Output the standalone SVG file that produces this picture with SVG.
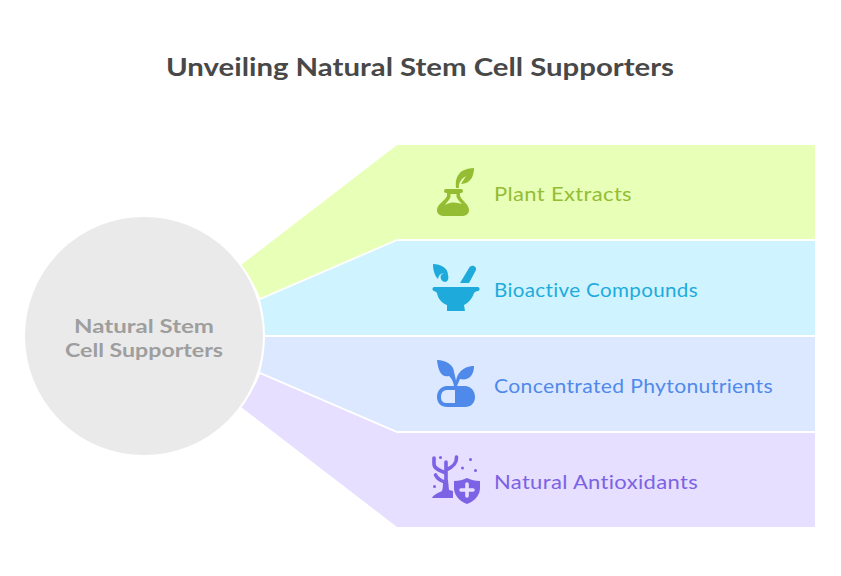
<svg xmlns="http://www.w3.org/2000/svg" width="841" height="576" viewBox="0 0 841 576">
<style>
text{font-family:"Lato","DejaVu Sans",sans-serif}
.t{font-size:19px;letter-spacing:.3px}
.c{font-size:19px;font-weight:700;fill:#9e9e9e;text-anchor:middle}
</style>
<rect width="841" height="576" fill="#fff"/>
<text x="420" y="76" font-size="25" font-weight="700" fill="#484848" text-anchor="middle" textLength="508" lengthAdjust="spacingAndGlyphs">Unveiling Natural Stem Cell Supporters</text>
<g id="band1"><path d="M241 265L397 145H815V239H397L260 298A119 119 0 0 0 241 265Z" fill="#e8ffb7"/>
<g fill="#95bd34"><rect x="444" y="189" width="19" height="4" rx="2"/><path d="M447 192H460V196C462 201 469 204 469 210C469 214 466 216 461 216H445C440 216 437 214 437 210C437 204 445 201 447 196Z"/><path d="M456 188C455 180 457 175 462 171C466 169 470 168 474 168C474 175 471 184 461 184L466 176C462 178 458 183 459 188Z"/></g>
<path d="M450.500 194H456.500V197C458 200 460 202 462 204C457 203 453 201 445 205C447 202 450 199 450.500 197Z" fill="#e8ffb7"/>
<text class="t" x="494" y="201" fill="#95bd34" textLength="138" lengthAdjust="spacingAndGlyphs">Plant Extracts</text></g>
<g id="band2"><path d="M260 300L397 241H815V335H264A119 119 0 0 0 260 300Z" fill="#cff3ff"/>
<g fill="#1eabdc"><path d="M434 287H478C480 287 480 291 478 291C476 291 475 292 474 293C472 299 468 303 464 305L465 311H447L447 305C442 303 438 299 437 293C436 292 435 291 434 291C432 291 432 287 434 287Z"/><path d="M460 283L469 268C471 264 477 266 476 270L469 283Z"/><path d="M433 264C441 264 448 268 448 275C449 278 448 282 445 282C441 281 440 278 441 275L444 273L441 274C439 275 438 278 438 279C435 276 433 271 433 264Z"/></g>
<text class="t" x="494" y="297" fill="#1eabdc" textLength="204" lengthAdjust="spacingAndGlyphs">Bioactive Compounds</text></g>
<g id="band3"><path d="M264 337H815V431H397L260 372A119 119 0 0 0 264 337Z" fill="#dce8ff"/>
<g fill="#4f8aeb"><path d="M447 386H465C471 386 475 391 475 397C475 403 471 407 465 407H447C441 407 437 403 437 397C437 391 441 386 447 386ZM447 390C443 390 441 393 441 397C441 401 443 403 447 403H455V390Z" fill-rule="evenodd"/><path d="M437 360C446 360 454 365 454 372C455 376 456 380 457 386H454C453 381 452 379 449 376C441 378 438 370 437 360Z"/><path d="M474 366C474 376 468 381 460 379L457 386H456C455 375 462 366 474 366Z"/></g>
<text class="t" x="494" y="393" fill="#4f8aeb" textLength="279" lengthAdjust="spacingAndGlyphs">Concentrated Phytonutrients</text></g>
<g id="band4"><path d="M241 407L397 527H815V433H397L260 374A119 119 0 0 1 241 407Z" fill="#e6dfff"/>
<g fill="#7c62e4"><path d="M432 498C433 495 438 493 442 491C443 488 443 484 443 480H448L449 490L453 491V498Z"/><path d="M467 478C471 480 475 481 480 481V488C480 495 475 501 467 504C459 501 454 495 454 488V481C459 481 463 480 467 478Z"/><circle cx="440.500" cy="457.500" r="1.500"/><circle cx="470.500" cy="459.500" r="1.500"/><circle cx="462.500" cy="468" r="1.500"/><circle cx="475.500" cy="470.500" r="1.500"/><circle cx="434.500" cy="486.500" r="1.500"/></g>
<path d="M446 484V462M434 458V464C434 468 438 470 445.500 473M456.500 457C457 463 453 467 446 470M435.500 475C437 478 441 481 445.500 482" fill="none" stroke="#7c62e4" stroke-width="3.600" stroke-linecap="round"/>
<path d="M467 484V496M461 490H473" stroke="#e6dfff" stroke-width="3.600" stroke-linecap="round" fill="none"/>
<text class="t" x="494" y="489" fill="#7c62e4" textLength="204" lengthAdjust="spacingAndGlyphs">Natural Antioxidants</text></g>
<g id="center"><circle cx="144" cy="336" r="120" fill="#eaeaea" stroke="#fff" stroke-width="2"/>
<text class="c" x="144" y="333" textLength="140" lengthAdjust="spacingAndGlyphs">Natural Stem</text>
<text class="c" x="144" y="357" textLength="158" lengthAdjust="spacingAndGlyphs">Cell Supporters</text></g>
</svg>
